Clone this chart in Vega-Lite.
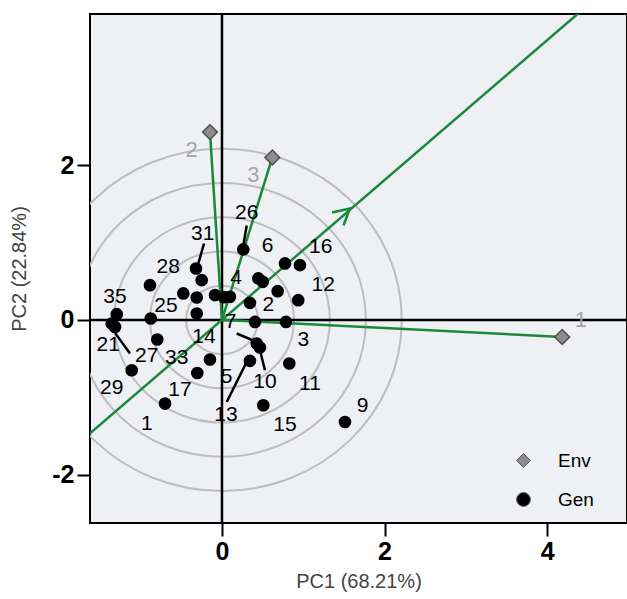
{
  "$schema": "https://vega.github.io/schema/vega-lite/v6.json",
  "autosize": {"type": "none"},
  "width": 537,
  "height": 509,
  "padding": {"left": 90, "top": 14, "right": 0, "bottom": 76},
  "background": "white",
  "config": {
    "view": {"fill": "#eef0f3", "stroke": "#000000", "strokeWidth": 2},
    "font": "Liberation Sans",
    "axis": {
      "grid": false,
      "domain": false,
      "tickColor": "#000000",
      "tickWidth": 2,
      "tickSize": 13,
      "labelFont": "Liberation Sans",
      "labelFontSize": 25,
      "labelFontWeight": "bold",
      "labelColor": "#000000",
      "labelPadding": 3,
      "labelExpr": "datum.value + ''",
      "titleFont": "Liberation Sans",
      "titleFontSize": 20,
      "titleFontWeight": "normal",
      "titleColor": "#444444"
    }
  },
  "datasets": {
    "rings": [{"r": 0.442}, {"r": 0.885}, {"r": 1.327}, {"r": 1.77}, {"r": 2.212}],
    "zx": [{"v": 0}],
    "aea": [{"x": -1.75, "y": -1.582}, {"x": 4.5, "y": 4.068}],
    "vec": [
      {"env": "1", "x": 0, "y": 0}, {"env": "1", "x": 4.186, "y": -0.22},
      {"env": "2", "x": 0, "y": 0}, {"env": "2", "x": -0.148, "y": 2.428},
      {"env": "3", "x": 0, "y": 0}, {"env": "3", "x": 0.619, "y": 2.1}
    ],
    "envs": [
      {"env": "1", "type": "Env", "x": 4.186, "y": -0.22, "lx": 4.417, "ly": 0.0},
      {"env": "2", "type": "Env", "x": -0.148, "y": 2.428, "lx": -0.373, "ly": 2.197},
      {"env": "3", "type": "Env", "x": 0.619, "y": 2.1, "lx": 0.385, "ly": 1.874}
    ],
    "gens": [
      {"g": "26", "type": "Gen", "x": 0.262, "y": 0.911},
      {"g": "6", "type": "Gen", "x": 0.447, "y": 0.536},
      {"g": "6b", "type": "Gen", "x": 0.501, "y": 0.492},
      {"g": "16b", "type": "Gen", "x": 0.775, "y": 0.73},
      {"g": "16", "type": "Gen", "x": 0.959, "y": 0.708},
      {"g": "12b", "type": "Gen", "x": 0.685, "y": 0.371},
      {"g": "12", "type": "Gen", "x": 0.938, "y": 0.255},
      {"g": "2", "type": "Gen", "x": 0.344, "y": 0.22},
      {"g": "7b", "type": "Gen", "x": 0.406, "y": -0.026},
      {"g": "3", "type": "Gen", "x": 0.787, "y": -0.026},
      {"g": "4a", "type": "Gen", "x": -0.086, "y": 0.32},
      {"g": "4", "type": "Gen", "x": 0.098, "y": 0.298},
      {"g": "4b", "type": "Gen", "x": 0.025, "y": 0.294},
      {"g": "31", "type": "Gen", "x": -0.32, "y": 0.665},
      {"g": "g1", "type": "Gen", "x": -0.25, "y": 0.514},
      {"g": "28", "type": "Gen", "x": -0.886, "y": 0.449},
      {"g": "g2", "type": "Gen", "x": -0.476, "y": 0.342},
      {"g": "g3", "type": "Gen", "x": -0.311, "y": 0.29},
      {"g": "g4", "type": "Gen", "x": -0.311, "y": 0.083},
      {"g": "25", "type": "Gen", "x": -0.877, "y": 0.018},
      {"g": "35", "type": "Gen", "x": -1.295, "y": 0.074},
      {"g": "21", "type": "Gen", "x": -1.357, "y": -0.047},
      {"g": "21b", "type": "Gen", "x": -1.316, "y": -0.091},
      {"g": "27", "type": "Gen", "x": -0.796, "y": -0.254},
      {"g": "7", "type": "Gen", "x": 0.427, "y": -0.305},
      {"g": "10", "type": "Gen", "x": 0.467, "y": -0.357},
      {"g": "29", "type": "Gen", "x": -1.111, "y": -0.651},
      {"g": "14", "type": "Gen", "x": -0.148, "y": -0.512},
      {"g": "33", "type": "Gen", "x": -0.304, "y": -0.686},
      {"g": "17", "type": "Gen", "x": -0.701, "y": -1.082},
      {"g": "13", "type": "Gen", "x": 0.344, "y": -0.53},
      {"g": "11", "type": "Gen", "x": 0.828, "y": -0.564},
      {"g": "15", "type": "Gen", "x": 0.508, "y": -1.103},
      {"g": "9", "type": "Gen", "x": 1.513, "y": -1.32}
    ],
    "labs": [
      {"t": "26", "x": 0.304, "y": 1.376},
      {"t": "6", "x": 0.562, "y": 0.957},
      {"t": "16", "x": 1.214, "y": 0.944},
      {"t": "12", "x": 1.246, "y": 0.449},
      {"t": "2", "x": 0.57, "y": 0.19},
      {"t": "4", "x": 0.172, "y": 0.536},
      {"t": "31", "x": -0.237, "y": 1.105},
      {"t": "28", "x": -0.661, "y": 0.678},
      {"t": "25", "x": -0.689, "y": 0.177},
      {"t": "35", "x": -1.316, "y": 0.298},
      {"t": "21", "x": -1.399, "y": -0.327},
      {"t": "27", "x": -0.926, "y": -0.47},
      {"t": "33", "x": -0.557, "y": -0.499},
      {"t": "14", "x": -0.221, "y": -0.22},
      {"t": "7", "x": 0.107, "y": -0.026},
      {"t": "3", "x": 1.0, "y": -0.263},
      {"t": "29", "x": -1.357, "y": -0.887},
      {"t": "17", "x": -0.517, "y": -0.909},
      {"t": "1", "x": -0.926, "y": -1.34},
      {"t": "5", "x": 0.058, "y": -0.737},
      {"t": "13", "x": 0.049, "y": -1.233},
      {"t": "10", "x": 0.529, "y": -0.802},
      {"t": "11", "x": 1.082, "y": -0.823},
      {"t": "15", "x": 0.775, "y": -1.362},
      {"t": "9", "x": 1.731, "y": -1.116}
    ],
    "leaders": [
      {"x": 0.304, "y": 1.22, "x2": 0.262, "y2": 0.96},
      {"x": -0.221, "y": 0.988, "x2": -0.291, "y2": 0.73},
      {"x": -1.316, "y": -0.168, "x2": -1.132, "y2": -0.435},
      {"x": 0.181, "y": -0.176, "x2": 0.427, "y2": -0.285},
      {"x": 0.529, "y": -0.651, "x2": 0.467, "y2": -0.392},
      {"x": 0.058, "y": -1.061, "x2": 0.304, "y2": -0.543}
    ],
    "arrow": [{"x": 1.574, "y": 1.441}]
  },
  "layer": [
    {
      "data": {"name": "rings"},
      "mark": {"type": "point", "shape": "M-1,0A1,0.9516,0,1,0,1,0A1,0.9516,0,1,0,-1,0Z", "filled": false, "stroke": "#bdbdbd", "strokeWidth": 2, "opacity": 1, "clip": true},
      "encoding": {
        "x": {"datum": 0, "type": "quantitative", "scale": {"domain": [-1.624, 4.983], "nice": false, "zero": false}, "axis": {"values": [0, 2, 4], "title": "PC1 (68.21%)", "titlePadding": 7}},
        "y": {"datum": 0, "type": "quantitative", "scale": {"domain": [-2.626, 3.955], "nice": false, "zero": false}, "axis": {"values": [-2, 0, 2], "title": "PC2 (22.84%)", "titlePadding": 22}},
        "size": {"field": "r", "type": "quantitative", "scale": {"type": "pow", "exponent": 2, "domain": [0, 2.5], "range": [0, 165163]}, "legend": null}
      }
    },
    {
      "data": {"name": "zx"},
      "mark": {"type": "rule", "color": "#000000", "strokeWidth": 2.5},
      "encoding": {"x": {"field": "v", "type": "quantitative"}}
    },
    {
      "data": {"name": "zx"},
      "mark": {"type": "rule", "color": "#000000", "strokeWidth": 2.5},
      "encoding": {"y": {"field": "v", "type": "quantitative"}}
    },
    {
      "data": {"name": "aea"},
      "mark": {"type": "line", "color": "#17893a", "strokeWidth": 2.5, "clip": true},
      "encoding": {"x": {"field": "x", "type": "quantitative"}, "y": {"field": "y", "type": "quantitative"}}
    },
    {
      "data": {"name": "vec"},
      "mark": {"type": "line", "color": "#17893a", "strokeWidth": 2.5},
      "encoding": {"x": {"field": "x", "type": "quantitative"}, "y": {"field": "y", "type": "quantitative"}, "detail": {"field": "env"}}
    },
    {
      "data": {"name": "arrow"},
      "mark": {"type": "point", "shape": "M-1,-0.54L0,0L-1,0.54", "filled": false, "stroke": "#17893a", "strokeWidth": 2.5, "size": 1036, "angle": 319, "opacity": 1},
      "encoding": {"x": {"field": "x", "type": "quantitative"}, "y": {"field": "y", "type": "quantitative"}}
    },
    {
      "data": {"name": "leaders"},
      "mark": {"type": "rule", "color": "#000000", "strokeWidth": 2.5},
      "encoding": {"x": {"field": "x", "type": "quantitative"}, "y": {"field": "y", "type": "quantitative"}, "x2": {"field": "x2"}, "y2": {"field": "y2"}}
    },
    {
      "data": {"name": "gens"},
      "mark": {"type": "point", "filled": true, "opacity": 1, "size": 160},
      "encoding": {
        "x": {"field": "x", "type": "quantitative"},
        "y": {"field": "y", "type": "quantitative"},
        "shape": {"field": "type", "type": "nominal", "scale": {"domain": ["Env", "Gen"], "range": ["diamond", "circle"]}, "legend": {"title": null, "orient": "none", "legendX": 424, "legendY": 437, "labelFontSize": 19, "labelColor": "#000000", "labelFont": "Liberation Sans", "symbolSize": 190, "labelOffset": 25, "rowPadding": 19, "symbolStrokeColor": "#555555", "symbolStrokeWidth": 1, "padding": 0}},
        "color": {"field": "type", "type": "nominal", "scale": {"domain": ["Env", "Gen"], "range": ["#8c8c8c", "#000000"]}, "legend": {"title": null, "orient": "none", "legendX": 424, "legendY": 437, "labelFontSize": 19, "labelColor": "#000000", "labelFont": "Liberation Sans", "symbolSize": 190, "labelOffset": 25, "rowPadding": 19, "symbolStrokeColor": "#555555", "symbolStrokeWidth": 1, "padding": 0}}
      }
    },
    {
      "data": {"name": "envs"},
      "mark": {"type": "point", "filled": true, "opacity": 1, "size": 220, "stroke": "#505050", "strokeWidth": 1.5},
      "encoding": {
        "x": {"field": "x", "type": "quantitative"},
        "y": {"field": "y", "type": "quantitative"},
        "shape": {"field": "type", "type": "nominal"},
        "color": {"field": "type", "type": "nominal"}
      }
    },
    {
      "data": {"name": "envs"},
      "mark": {"type": "text", "fontSize": 22, "color": "#a6a6a6", "font": "Liberation Sans"},
      "encoding": {"x": {"field": "lx", "type": "quantitative"}, "y": {"field": "ly", "type": "quantitative"}, "text": {"field": "env"}}
    },
    {
      "data": {"name": "labs"},
      "mark": {"type": "text", "fontSize": 21, "color": "#000000", "font": "Liberation Sans"},
      "encoding": {"x": {"field": "x", "type": "quantitative"}, "y": {"field": "y", "type": "quantitative"}, "text": {"field": "t"}}
    }
  ]
}
